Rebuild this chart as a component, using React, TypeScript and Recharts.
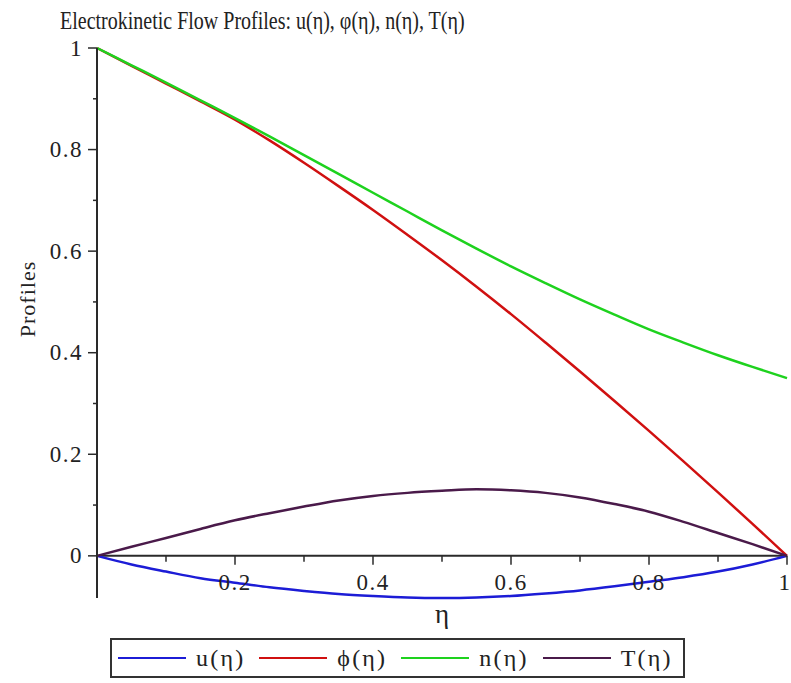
import { LineChart, Line, XAxis, YAxis, ReferenceLine, ReferenceDot, Legend } from 'recharts'

const SERIF = '"Liberation Serif", "Times New Roman", serif'

const ETA = [0, 0.05, 0.1, 0.15, 0.2, 0.25, 0.3, 0.35, 0.4, 0.45, 0.5, 0.55, 0.6, 0.65, 0.7, 0.75, 0.8, 0.85, 0.9, 0.95, 1]
const U_VALS = [0, -0.017, -0.031, -0.044, -0.053, -0.062, -0.069, -0.075, -0.079, -0.082, -0.083, -0.082, -0.079, -0.074, -0.068, -0.06, -0.051, -0.042, -0.031, -0.017, 0]
const PHI_VALS = [1, 0.965, 0.93, 0.895, 0.859, 0.818, 0.774, 0.728, 0.681, 0.632, 0.582, 0.53, 0.476, 0.42, 0.363, 0.305, 0.246, 0.186, 0.125, 0.063, 0]
const N_VALS = [1, 0.966, 0.932, 0.897, 0.862, 0.826, 0.789, 0.752, 0.715, 0.678, 0.641, 0.605, 0.57, 0.537, 0.505, 0.475, 0.446, 0.42, 0.395, 0.372, 0.35]
const T_VALS = [0, 0.018, 0.035, 0.053, 0.07, 0.084, 0.097, 0.109, 0.118, 0.124, 0.128, 0.131, 0.129, 0.124, 0.115, 0.102, 0.087, 0.067, 0.045, 0.023, 0]

const SERIES = [
  { key: 'u', name: 'u(η)', color: '#1c1cd6' },
  { key: 'phi', name: 'ϕ(η)', color: '#d01010' },
  { key: 'n', name: 'n(η)', color: '#1ed21e' },
  { key: 'T', name: 'T(η)', color: '#4a1a4a' },
]

const X_TICKS = [0.1, 0.2, 0.3, 0.4, 0.5, 0.6, 0.7, 0.8, 0.9, 1]
const X_LABELS = [0.2, 0.4, 0.6, 0.8, 1]
const Y_TICKS = [0, 0.1, 0.2, 0.3, 0.4, 0.5, 0.6, 0.7, 0.8, 0.9, 1]
const Y_LABELS = [0, 0.2, 0.4, 0.6, 0.8, 1]

const data = ETA.map((eta, i) => ({
  eta,
  u: U_VALS[i],
  phi: PHI_VALS[i],
  n: N_VALS[i],
  T: T_VALS[i],
}))

const AXIS = '#2a2a2a'

function YTick({ x, y, payload }: any) {
  const major = Y_LABELS.includes(payload.value)
  return (
    <g>
      <line x1={x} x2={x - (major ? 9 : 4)} y1={y} y2={y} stroke={AXIS} strokeWidth={1.5} />
      {major && (
        <text
          x={x - 14}
          y={y}
          textAnchor="end"
          dominantBaseline="central"
          fontFamily={SERIF}
          fontSize={23}
          letterSpacing={1.5}
          fill="#222"
        >
          {payload.value}
        </text>
      )}
    </g>
  )
}

function XTickMark({ cx, cy, value }: any) {
  const major = X_LABELS.includes(value)
  // the last label sits against the right edge, keep it inside the frame
  const last = value === X_LABELS[X_LABELS.length - 1]
  return (
    <g>
      <line x1={cx} x2={cx} y1={cy} y2={cy + (major ? 9 : 6)} stroke={AXIS} strokeWidth={1.5} />
      {major && (
        <text
          x={last ? cx + 3 : cx}
          y={cy + 27}
          textAnchor={last ? 'end' : 'middle'}
          dominantBaseline="central"
          fontFamily={SERIF}
          fontSize={23}
          letterSpacing={last ? 0 : 1.5}
          fill="#222"
        >
          {value}
        </text>
      )}
    </g>
  )
}

function LegendBox() {
  return (
    <div
      style={{
        border: '2px solid #333',
        height: 40,
        boxSizing: 'border-box',
        display: 'flex',
        alignItems: 'center',
        gap: 14,
        paddingLeft: 6,
        fontFamily: SERIF,
        fontSize: 24,
        letterSpacing: 2.2,
        color: '#222',
      }}
    >
      {SERIES.map((s) => (
        <div key={s.key} style={{ display: 'flex', alignItems: 'center' }}>
          <span style={{ display: 'inline-block', width: 68, borderTop: `2.5px solid ${s.color}` }} />
          <span style={{ marginLeft: 10 }}>{s.name}</span>
        </div>
      ))}
    </div>
  )
}

export default function App() {
  return (
    <div style={{ position: 'absolute', left: 0, top: 0, width: 791, height: 683, background: '#fff' }}>
      <div
        style={{
          position: 'absolute',
          left: 60,
          top: 6,
          fontFamily: SERIF,
          fontSize: 20,
          color: '#222',
          whiteSpace: 'nowrap',
          transform: 'scaleY(1.25)',
          transformOrigin: 'left top',
          zIndex: 2,
        }}
      >
        Electrokinetic Flow Profiles: u(η), φ(η), n(η), T(η)
      </div>
      <LineChart width={791} height={683} data={data} margin={{ top: 48, right: 4, left: 0, bottom: 5 }}>
        <XAxis
          dataKey="eta"
          type="number"
          domain={[0, 1]}
          ticks={X_LABELS}
          tick={false}
          axisLine={false}
          tickLine={false}
          height={40}
          label={{ value: 'η', position: 'insideTop', offset: 6, fontFamily: SERIF, fontSize: 27, fill: '#222' }}
        />
        <YAxis
          type="number"
          domain={[-0.082, 1]}
          ticks={Y_TICKS}
          interval={0}
          width={97}
          tickSize={0}
          tickMargin={0}
          tickLine={false}
          axisLine={{ stroke: AXIS, strokeWidth: 2 }}
          tick={<YTick />}
          label={(props: any) => {
            const vb = props.viewBox || { x: 0, y: 0, height: 0 }
            const cx = vb.x + 27
            const cy = vb.y + vb.height / 2 - 24
            return (
              <text
                x={cx}
                y={cy}
                transform={`rotate(-90 ${cx} ${cy})`}
                textAnchor="middle"
                dominantBaseline="central"
                fontFamily={SERIF}
                fontSize={22}
                letterSpacing={1}
                fill="#222"
              >
                Profiles
              </text>
            )
          }}
        />
        <ReferenceLine y={0} stroke={AXIS} strokeWidth={2} />
        {X_TICKS.map((t) => (
          <ReferenceDot key={t} x={t} y={0} r={0} shape={(p: any) => <XTickMark {...p} value={t} />} />
        ))}
        <Legend verticalAlign="bottom" content={<LegendBox />} wrapperStyle={{ left: 110, width: 575 }} />
        {SERIES.map((s) => (
          <Line
            key={s.key}
            type="monotone"
            dataKey={s.key}
            name={s.name}
            stroke={s.color}
            strokeWidth={2.5}
            dot={false}
            isAnimationActive={false}
          />
        ))}
      </LineChart>
    </div>
  )
}
